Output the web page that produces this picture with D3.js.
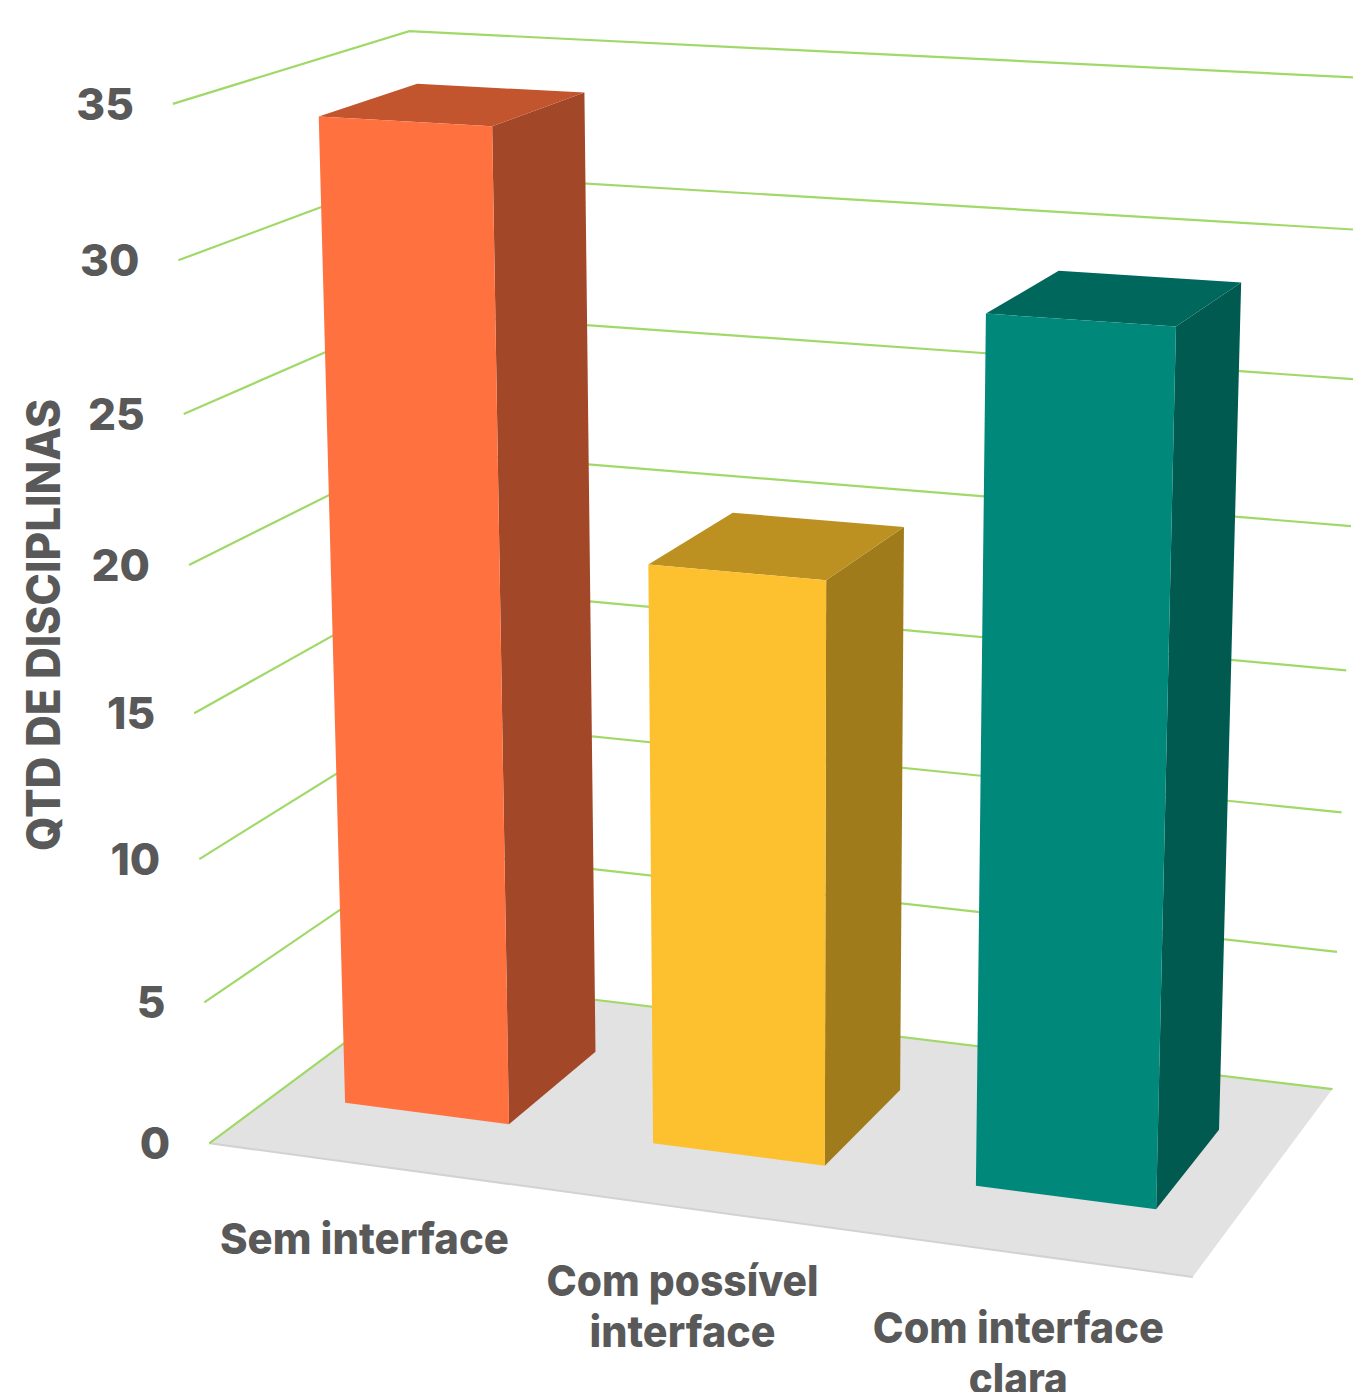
<!DOCTYPE html>
<html>
<head>
<meta charset="utf-8">
<script src="https://cdn.jsdelivr.net/npm/d3@7"></script>
<style>
  html, body { margin: 0; padding: 0; background: #fff; overflow: hidden; }
  text { font-family: Inter, "Open Sans", sans-serif; font-weight: 700; fill: #595959; }
</style>
</head>
<body>
<svg id="chart" width="1353" height="1392"></svg>
<script>
const categories = ['Sem interface', 'Com possível interface', 'Com interface clara'];
const values = [34, 20, 29];
const yTicks = [0, 5, 10, 15, 20, 25, 30, 35];
const axisTitle = 'QTD DE DISCIPLINAS';

const catLines = [['Sem interface'], ['Com possível', 'interface'], ['Com interface', 'clara']];
const catLineWidths = [[289], [272, 186], [291, 99]];
const catNudge = [[48, 52], [41, 49], [35, 48]];
const faceColors = [
    { front: '#ff7240', top: '#c2552e', side: '#a24727' },
    { front: '#fdc02f', top: '#bd9022', side: '#9f7b1b' },
    { front: '#00897b', top: '#00675c', side: '#005a50' }
];

// Screen positions of the box corners: [x, y, z] -> [sx, sy]
const anchors = [
    [0, 0, 0, 208, 1143], [1, 0, 0, 1193, 1277], [1, 0, 1, 1332, 1089], [0, 0, 1, 431, 980],
    [0, 1, 1, 408, 31], [0, 1, 0, 174, 104], [1, 1, 1, 1366, 78]
];

// Least squares fit of a projective camera to the anchors
function fitCamera(pts) {
    const rows = [], rhs = [];
    pts.forEach(([x, y, z, sx, sy]) => {
        rows.push([x, y, z, 1, 0, 0, 0, 0, -sx * x, -sx * y, -sx * z]); rhs.push(sx);
        rows.push([0, 0, 0, 0, x, y, z, 1, -sy * x, -sy * y, -sy * z]); rhs.push(sy);
    });
    const n = 11;
    const m = d3.range(n).map(i => d3.range(n + 1).map(j =>
        d3.sum(rows, (r, k) => r[i] * (j < n ? r[j] : rhs[k]))));
    for (let i = 0; i < n; i++) {
        let p = i;
        for (let k = i + 1; k < n; k++) if (Math.abs(m[k][i]) > Math.abs(m[p][i])) p = k;
        [m[i], m[p]] = [m[p], m[i]];
        for (let k = 0; k < n; k++) {
            if (k === i) continue;
            const f = m[k][i] / m[i][i];
            for (let j = i; j <= n; j++) m[k][j] -= f * m[i][j];
        }
    }
    return d3.range(n).map(i => m[i][n] / m[i][i]);
}
const cam = fitCamera(anchors);
function project(x, y, z) {
    const w = cam[8] * x + cam[9] * y + cam[10] * z + 1;
    return [
        (cam[0] * x + cam[1] * y + cam[2] * z + cam[3]) / w,
        (cam[4] * x + cam[5] * y + cam[6] * z + cam[7]) / w
    ];
}

const xScale = d3.scaleBand().domain(categories).range([0.0053, 0.9944]).paddingInner(0.462).paddingOuter(0.215);
const yScale = d3.scaleLinear().domain([0, 35]).range([0, 1]);
const zFront = 0.283, zBack = 0.712, zLabel = -0.2;

const svg = d3.select('#chart');
const line = d3.line();
const poly = pts => line(pts) + 'Z';

// Floor
svg.append('path')
    .attr('d', poly([project(0, 0, 0), project(1, 0, 0), project(1, 0, 1), project(0, 0, 1)]))
    .style('fill', '#e2e2e2');
svg.append('path')
    .attr('d', line([project(0, 0, 0), project(1, 0, 0)]))
    .style('fill', 'none').style('stroke', '#d2d2d2').style('stroke-width', 2);

// Grid lines along the side wall and the back wall
svg.selectAll('path.grid')
    .data(yTicks)
    .enter()
    .append('path')
    .attr('class', 'grid')
    .attr('d', d => line([project(0, yScale(d), 0), project(0, yScale(d), 1), project(1, yScale(d), 1)]))
    .style('fill', 'none')
    .style('stroke', '#a0d968')
    .style('stroke-width', 2.2);

// Bars
const bars = svg.selectAll('g.bar')
    .data(categories)
    .enter()
    .append('g')
    .attr('class', 'bar');

bars.each(function(cat, i) {
    const x0 = xScale(cat), x1 = x0 + xScale.bandwidth(), top = yScale(values[i]);
    const g = d3.select(this);
    g.append('path').style('fill', faceColors[i].side)
        .attr('d', poly([project(x1, 0, zFront), project(x1, 0, zBack), project(x1, top, zBack), project(x1, top, zFront)]));
    g.append('path').style('fill', faceColors[i].top)
        .attr('d', poly([project(x0, top, zFront), project(x1, top, zFront), project(x1, top, zBack), project(x0, top, zBack)]));
    g.append('path').style('fill', faceColors[i].front)
        .attr('d', poly([project(x0, 0, zFront), project(x1, 0, zFront), project(x1, top, zFront), project(x0, top, zFront)]));
});

// Value axis labels, right aligned a little off the wall
svg.selectAll('text.tick')
    .data(yTicks)
    .enter()
    .append('text')
    .attr('class', 'tick')
    .attr('x', d => project(0, yScale(d), 0)[0] - 39)
    .attr('y', d => project(0, yScale(d), 0)[1] + 16)
    .attr('text-anchor', 'end')
    .style('font-size', '44px')
    .style('font-weight', 800)
    .text(d => d);

svg.append('text')
    .attr('transform', 'translate(60,625) rotate(-90)')
    .attr('text-anchor', 'middle')
    .attr('textLength', 452)
    .attr('lengthAdjust', 'spacingAndGlyphs')
    .style('font-size', '46px')
    .style('font-weight', 800)
    .text(axisTitle);

// Category labels
categories.forEach((cat, i) => {
    const p = project(xScale(cat) + xScale.bandwidth() / 2, 0, zLabel);
    catLines[i].forEach((t, j) => {
        svg.append('text')
            .attr('class', 'cat')
            .attr('x', p[0] + catNudge[i][0])
            .attr('y', p[1] + catNudge[i][1] + j * 51)
            .attr('text-anchor', 'middle')
            .attr('textLength', catLineWidths[i][j])
            .attr('lengthAdjust', 'spacingAndGlyphs')
            .style('font-size', '43px')
            .style('font-weight', 800)
            .text(t);
    });
});
</script>
</body>
</html>
